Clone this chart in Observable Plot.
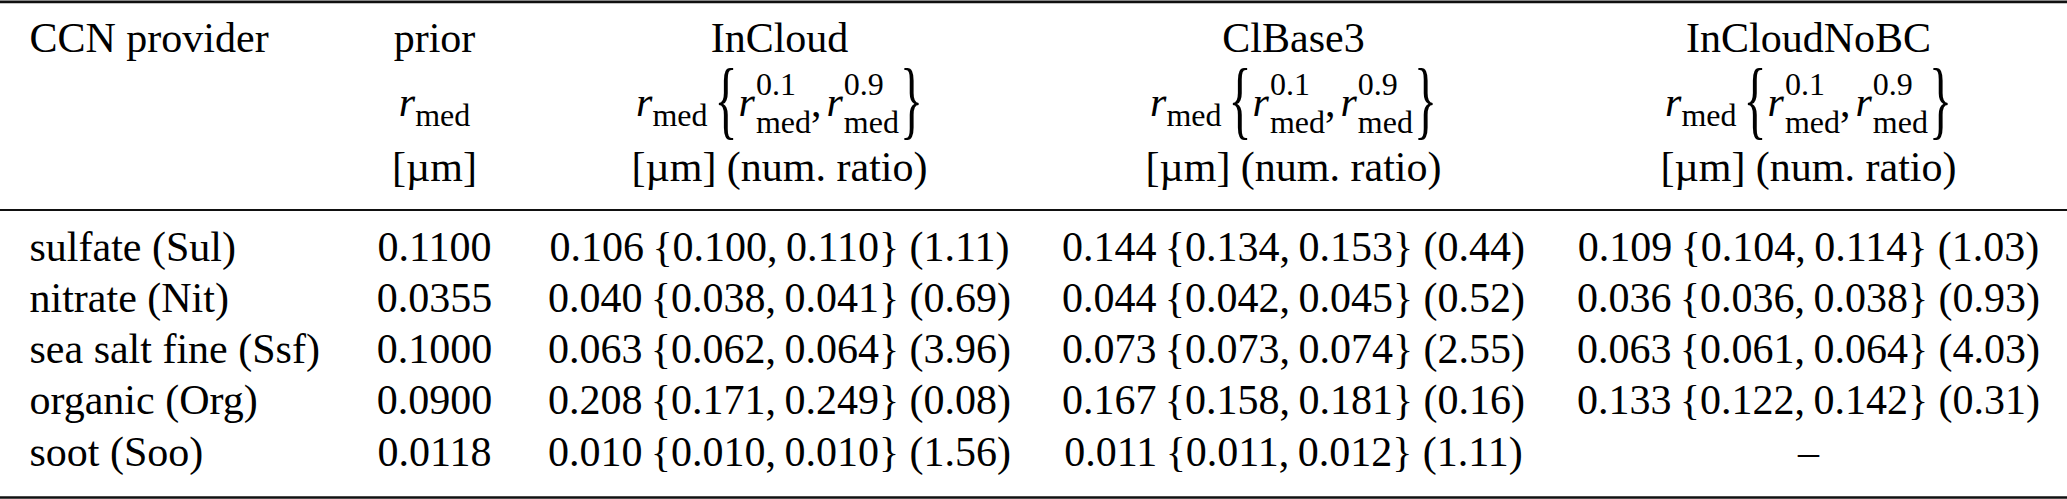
<!DOCTYPE html>
<html>
<head>
<meta charset="utf-8">
<script src="https://cdn.jsdelivr.net/npm/d3@7"></script>
<script src="https://cdn.jsdelivr.net/npm/@observablehq/plot@0.6"></script>
<style>
  body { margin: 0; background: #fff; }
  svg { display: block; }
</style>
</head>
<body>
<div id="chart"></div>
<script>
// ---- table content ----
const columnKeys = ["provider", "prior", "InCloud", "ClBase3", "InCloudNoBC"];
const headerLabels = ["CCN provider", "prior", "InCloud", "ClBase3", "InCloudNoBC"];
const unitLabels = ["", "[µm]", "[µm] (num. ratio)", "[µm] (num. ratio)", "[µm] (num. ratio)"];
const quantileLabels = ["0.1", "0.9"];

const providers = ["sulfate (Sul)", "nitrate (Nit)", "sea salt fine (Ssf)", "organic (Org)", "soot (Soo)"];
const priorRmed = [0.1100, 0.0355, 0.1000, 0.0900, 0.0118];

const inCloudMed   = [0.106, 0.040, 0.063, 0.208, 0.010];
const inCloudP10   = [0.100, 0.038, 0.062, 0.171, 0.010];
const inCloudP90   = [0.110, 0.041, 0.064, 0.249, 0.010];
const inCloudRatio = [1.11, 0.69, 3.96, 0.08, 1.56];

const clBase3Med   = [0.144, 0.044, 0.073, 0.167, 0.011];
const clBase3P10   = [0.134, 0.042, 0.073, 0.158, 0.011];
const clBase3P90   = [0.153, 0.045, 0.074, 0.181, 0.012];
const clBase3Ratio = [0.44, 0.52, 2.55, 0.16, 1.11];

const noBCMed   = [0.109, 0.036, 0.063, 0.133, null];
const noBCP10   = [0.104, 0.036, 0.061, 0.122, null];
const noBCP90   = [0.114, 0.038, 0.064, 0.142, null];
const noBCRatio = [1.03, 0.93, 4.03, 0.31, null];

// ---- build cells ----
const f4 = d3.format(".4f"), f3 = d3.format(".3f"), f2 = d3.format(".2f");
const experiments = [
  {key: "InCloud", med: inCloudMed, p10: inCloudP10, p90: inCloudP90, ratio: inCloudRatio},
  {key: "ClBase3", med: clBase3Med, p10: clBase3P10, p90: clBase3P90, ratio: clBase3Ratio},
  {key: "InCloudNoBC", med: noBCMed, p10: noBCP10, p90: noBCP90, ratio: noBCRatio}
];

const cells = [];
headerLabels.forEach((t, i) => cells.push({col: columnKeys[i], row: "head", text: t}));
unitLabels.forEach((t, i) => { if (t) cells.push({col: columnKeys[i], row: "unit", text: t}); });
providers.forEach((p, i) => {
  cells.push({col: "provider", row: p, text: p});
  cells.push({col: "prior", row: p, text: f4(priorRmed[i])});
  experiments.forEach(e => cells.push({
    col: e.key, row: p,
    text: e.med[i] == null ? "–"
      : `${f3(e.med[i])}\u2009{${f3(e.p10[i])},\u2009${f3(e.p90[i])}} (${f2(e.ratio[i])})`
  }));
});
const symbolCells = columnKeys.slice(1).map(k => ({
  col: k, row: "symbol",
  text: k === "prior" ? "r_med" : `r_med {r_med^${quantileLabels[0]}, r_med^${quantileLabels[1]}}`
}));

const rowKeys = ["top", "head", "symbol", "unit", "mid", ...providers, "bottom"];
const FONT = "'Liberation Serif', 'Times New Roman', serif";

const svg = Plot.plot({
  width: 2067,
  height: 499,
  margin: 0,
  style: {background: "#fff", color: "#000"},
  x: {type: "ordinal", domain: columnKeys, range: [29, 434, 779, 1293, 1808], axis: null},
  y: {type: "ordinal", domain: rowKeys, range: [1.3, 51, 115, 180, 209.5, 260, 311, 362, 413, 465, 497], axis: null},
  marks: [
    Plot.ruleY(["top"], {y: d => d, stroke: "#111", strokeWidth: 2.7}),
    Plot.ruleY(["mid"], {y: d => d, stroke: "#111", strokeWidth: 1.8}),
    Plot.ruleY(["bottom"], {y: d => d, stroke: "#111", strokeWidth: 2.6}),
    Plot.text(cells.filter(d => d.col === "provider"), {
      x: "col", y: "row", text: "text", textAnchor: "start", lineAnchor: "bottom",
      fontFamily: FONT, fontSize: 42, fill: "#000"
    }),
    Plot.text(cells.filter(d => d.col !== "provider"), {
      x: "col", y: "row", text: "text", textAnchor: "middle", lineAnchor: "bottom",
      fontFamily: FONT, fontSize: 42, fill: "#000"
    }),
    Plot.text(symbolCells, {
      x: "col", y: "row", text: "text", textAnchor: "middle", lineAnchor: "bottom",
      fontFamily: FONT, fontSize: 42, fill: "#000"
    })
  ]
});
document.getElementById("chart").appendChild(svg);

// ---- typeset the math symbols with tspans ----
const NS = "http://www.w3.org/2000/svg";
Array.from(svg.querySelectorAll("text"))
  .filter(el => el.textContent.startsWith("r_med"))
  .forEach(el => {
    const isRange = el.textContent.includes("{");
    el.textContent = "";
    let cur = 0;
    const span = (str, {size = 42, italic = false, off = 0, dx = 0, len = null} = {}) => {
      const t = document.createElementNS(NS, "tspan");
      t.setAttribute("font-size", size);
      t.setAttribute("font-style", italic ? "italic" : "normal");
      if (off !== cur) t.setAttribute("dy", off - cur);
      if (dx) t.setAttribute("dx", dx);
      if (len) { t.setAttribute("textLength", len); t.setAttribute("lengthAdjust", "spacingAndGlyphs"); }
      t.textContent = str;
      el.appendChild(t);
      cur = off;
      return t;
    };
    span("r", {italic: true});
    span("med", {size: 32, off: 10});
    if (isRange) {
      span("{", {size: 87, off: 12.5, dx: 7, len: 23});
      quantileLabels.forEach((q, qi) => {
        span("r", {italic: true, off: 0, dx: qi ? 5 : 1});
        const sup = span(q, {size: 32, off: -21, dx: 1});
        const w = sup.getComputedTextLength();
        span("med", {size: 32, off: 17, dx: -w});
        if (qi === 0) span(",", {off: 0});
      });
      span("}", {size: 87, off: 12.5, dx: 1, len: 23});
    }
  });
</script>
</body>
</html>
